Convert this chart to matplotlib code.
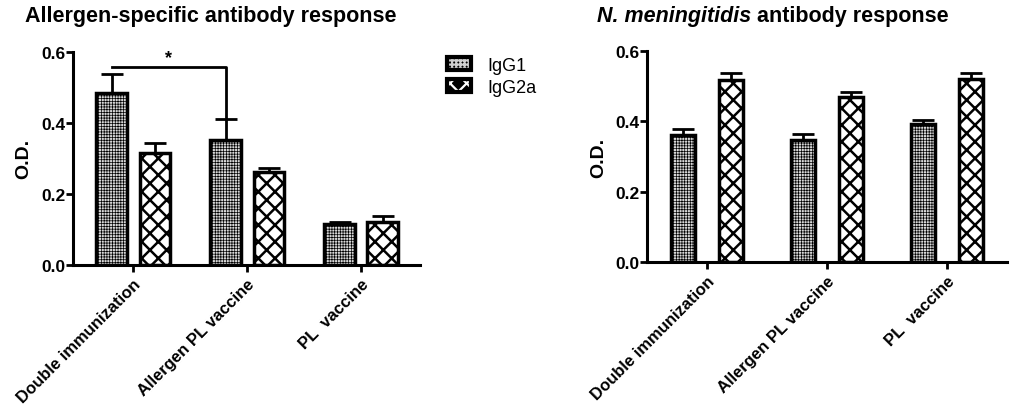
import numpy as np
import matplotlib
matplotlib.use("Agg")
import matplotlib.pyplot as plt
from matplotlib.patches import Patch
from matplotlib.legend_handler import HandlerTuple

plt.rcParams['font.family'] = ['Liberation Sans', 'DejaVu Sans']
plt.rcParams['font.weight'] = 'bold'

# data
groups = ["Double immunization", "Allergen PL vaccine", "PL  vaccine"]
series = ["IgG1", "IgG2a"]

allergen_igg1 = [0.485, 0.352, 0.115]
allergen_igg1_err = [0.052, 0.058, 0.007]
allergen_igg2a = [0.315, 0.262, 0.120]
allergen_igg2a_err = [0.028, 0.011, 0.018]

mening_igg1 = [0.360, 0.348, 0.393]
mening_igg1_err = [0.017, 0.017, 0.012]
mening_igg2a = [0.518, 0.468, 0.520]
mening_igg2a_err = [0.020, 0.015, 0.017]

yticks = [0.0, 0.2, 0.4, 0.6]

fig = plt.figure(figsize=(10.13, 4.06), dpi=100)

style1 = dict(facecolor='#d8d8d8', hatch='++++++', edgecolor='black')
style2 = dict(facecolor='white', hatch='xx', edgecolor='black')


def draw_panel(ax, v1, e1, v2, e2, off, w, xlim):
    x = np.arange(len(groups))
    plt.rcParams['hatch.linewidth'] = 0.5
    ax.bar(x - off, v1, w, linewidth=2.5, zorder=2, **style1)
    plt.rcParams['hatch.linewidth'] = 1.8
    ax.bar(x + off, v2, w, linewidth=2.5, zorder=2, **style2)
    ax.errorbar(x - off, v1, yerr=[np.zeros(3), e1], fmt='none', ecolor='black',
                elinewidth=2, capsize=8, capthick=2, zorder=1)
    ax.errorbar(x + off, v2, yerr=[np.zeros(3), e2], fmt='none', ecolor='black',
                elinewidth=2, capsize=8, capthick=2, zorder=1)
    ax.set_xlim(*xlim)
    ax.set_ylim(0, 0.6)
    ax.set_yticks(yticks)
    ax.set_yticklabels(["%.1f" % t for t in yticks], fontsize=12.5, fontweight='bold')
    ax.set_xticks(x)
    ax.set_xticklabels(groups, rotation=45, ha='right', rotation_mode='anchor',
                       fontsize=12, fontweight='bold')
    ax.set_ylabel("O.D.", fontsize=14, fontweight='bold', labelpad=6)
    for s in ['top', 'right']:
        ax.spines[s].set_visible(False)
    for s in ['left', 'bottom']:
        ax.spines[s].set_linewidth(2.2)
    ax.tick_params(width=2, length=5)
    ax.tick_params(axis='y', pad=0.5)
    ax.tick_params(axis='x', pad=3)


ax1 = fig.add_axes([0.072, 0.345, 0.343, 0.525])
draw_panel(ax1, allergen_igg1, allergen_igg1_err, allergen_igg2a, allergen_igg2a_err,
           0.19, 0.27, (-0.53, 2.52))

# significance bracket
xa = 0 - 0.19
xb = 1 - 0.19
ax1.plot([xa, xb, xb], [0.558, 0.558, allergen_igg1[1] + allergen_igg1_err[1]],
         color='black', lw=2, zorder=3)
ax1.text((xa + xb) / 2, 0.561, "*", ha='center', va='bottom', fontsize=13, fontweight='bold')

ax2 = fig.add_axes([0.639, 0.352, 0.355, 0.52])
draw_panel(ax2, mening_igg1, mening_igg1_err, mening_igg2a, mening_igg2a_err,
           0.2, 0.2, (-0.5, 2.5))

# titles
fig.text(0.208, 0.985, "Allergen-specific antibody response", ha='center', va='top',
         fontsize=15.5, fontweight='bold')
r = fig.canvas.get_renderer()
t_it = fig.text(0.589, 0.985, "N. meningitidis", ha='left', va='top',
                fontsize=15.5, fontweight='bold', style='italic')
bb = t_it.get_window_extent(renderer=r)
fig.text(bb.x1 / fig.bbox.width, 0.985, " antibody response", ha='left', va='top',
         fontsize=15.5, fontweight='bold')

# legend: black boxes with a light pattern inside
plt.rcParams['hatch.linewidth'] = 0.8
leg1 = (Patch(facecolor='black', edgecolor='#d0d0d0', hatch='++++', linewidth=0),
        Patch(facecolor='none', edgecolor='black', linewidth=3))
plt.rcParams['hatch.linewidth'] = 1.6
leg2 = (Patch(facecolor='black', edgecolor='white', hatch='xx', linewidth=0),
        Patch(facecolor='none', edgecolor='black', linewidth=3))
fig.legend([leg1, leg2], series, loc='upper left', bbox_to_anchor=(0.425, 0.898),
           frameon=False, prop={'weight': 'normal', 'size': 13},
           handler_map={tuple: HandlerTuple(ndivide=1, pad=0)},
           handlelength=1.35, handleheight=0.75, labelspacing=0.3, handletextpad=0.9)

fig.savefig("out.png", dpi=100)
